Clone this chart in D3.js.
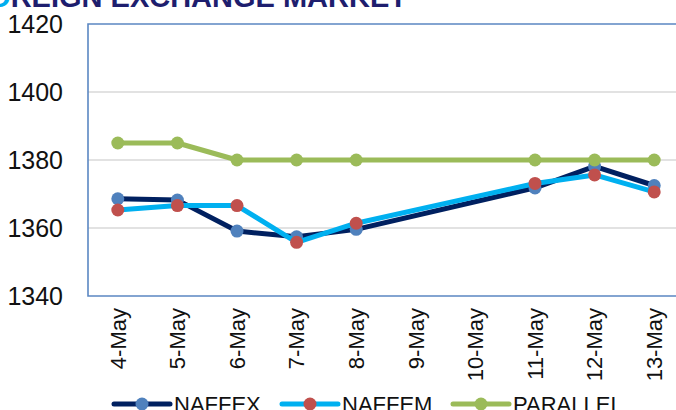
<!DOCTYPE html>
<html><head><meta charset="utf-8">
<script src="https://cdn.jsdelivr.net/npm/d3@7"></script>
<style>html,body{margin:0;padding:0;background:#fff;overflow:hidden}svg{display:block;font-family:Arial,"Liberation Sans",sans-serif}</style>
</head><body>
<svg id="c" width="676" height="410"></svg>
<script>
const categories = ["4-May","5-May","6-May","7-May","8-May","9-May","10-May","11-May","12-May","13-May"];
const naffex   = [1368.6, 1368.2, 1359.1, 1357.4, 1359.6, null, null, 1371.8, 1378.1, 1372.5];
const naffem   = [1365.3, 1366.6, 1366.6, 1355.8, 1361.4, null, null, 1373.1, 1375.6, 1370.6];
const parallel = [1385, 1385, 1380, 1380, 1380, null, null, 1380, 1380, 1380];
const yTicks = [1340, 1360, 1380, 1400, 1420];
const seriesNames = ["NAFFEX","NAFFEM","PARALLEL"];

const svg = d3.select("#c");
const pLeft = 88, pTop = 24, pBottom = 296, pRight = 684;

const x = d3.scaleBand().domain(categories).range([pLeft, pRight]);
const y = d3.scaleLinear().domain([1340, 1420]).range([pBottom, pTop]);
const cx = d => x(d) + x.bandwidth() / 2;

// title (clipped at top)
const title = svg.append("text").attr("x", 407).attr("y", 7)
  .attr("text-anchor", "end").attr("font-weight", "bold").attr("font-size", 29)
  .attr("fill", "#1E1E6E");
title.append("tspan").text("F");
title.append("tspan").attr("fill", "#00AEEF").text("O");
title.append("tspan").text("REIGN EXCHANGE MARKET");

// gridlines
svg.append("g").selectAll("line").data(yTicks.filter(t => t > 1340 && t < 1420)).join("line")
  .attr("x1", pLeft).attr("x2", pRight).attr("y1", d => y(d)).attr("y2", d => y(d))
  .attr("stroke", "#D9D9D9").attr("stroke-width", 1.3);

// y axis labels
const yAxis = d3.axisLeft(y).tickValues(yTicks).tickSize(0).tickPadding(25).tickFormat(d3.format("d"));
const yg = svg.append("g").attr("transform", `translate(${pLeft},0)`).call(yAxis);
yg.select(".domain").remove();
yg.selectAll("text").attr("font-size", 25).attr("fill", "#111").attr("font-family", "Arial, 'Liberation Sans', sans-serif");

// plot border
svg.append("path")
  .attr("d", `M${pRight},${pTop}H${pLeft}V${pBottom}H${pRight}`)
  .attr("fill", "none").attr("stroke", "#5B87C2").attr("stroke-width", 1.6);

// x labels
const xAxis = d3.axisBottom(x).tickSize(0).tickPadding(0);
const xg = svg.append("g").attr("transform", `translate(0,${pBottom})`).call(xAxis);
xg.select(".domain").remove();
xg.selectAll("text")
  .attr("font-size", 22).attr("fill", "#111").attr("font-family", "Arial, 'Liberation Sans', sans-serif")
  .attr("text-anchor", "end")
  .attr("transform", "translate(0,12) rotate(-90)")
  .attr("x", 0).attr("y", 0).attr("dy", "0.35em");

const series = [
  {name: seriesNames[0], values: naffex,   line: "#002060", marker: "#4F81BD"},
  {name: seriesNames[1], values: naffem,   line: "#00B0F0", marker: "#C0504D"},
  {name: seriesNames[2], values: parallel, line: "#9BBB59", marker: "#9BBB59"}
];

const lineGen = d3.line().x(d => cx(d.c)).y(d => y(d.v));
series.forEach(s => {
  const pts = categories.map((c, i) => ({c, v: s.values[i]})).filter(d => d.v != null);
  const g = svg.append("g");
  g.append("path").datum(pts).attr("d", lineGen)
    .attr("fill", "none").attr("stroke", s.line).attr("stroke-width", 5)
    .attr("stroke-linejoin", "round").attr("stroke-linecap", "round");
  g.selectAll("circle").data(pts).join("circle")
    .attr("cx", d => cx(d.c)).attr("cy", d => y(d.v)).attr("r", 6.5)
    .attr("fill", s.marker);
});

// legend
const legX = [114, 282, 453];
const legY = 404;
series.forEach((s, i) => {
  const g = svg.append("g").attr("transform", `translate(${legX[i]},${legY})`);
  g.append("line").attr("x1", 0).attr("x2", 56).attr("y1", 0).attr("y2", 0)
    .attr("stroke", s.line).attr("stroke-width", 5).attr("stroke-linecap", "round");
  g.append("circle").attr("cx", 28).attr("cy", 0).attr("r", 6.5).attr("fill", s.marker);
  g.append("text").attr("x", 60).attr("y", 8).attr("font-size", 22).attr("fill", "#111")
    .text(s.name);
});
</script>
</body></html>
